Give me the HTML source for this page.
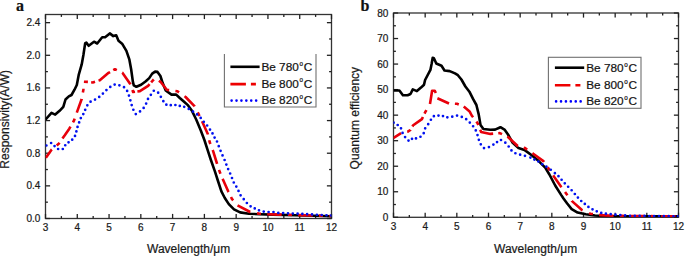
<!DOCTYPE html>
<html><head><meta charset="utf-8"><style>
html,body{margin:0;padding:0;background:#fff;width:685px;height:256px;overflow:hidden}
svg{display:block}
text{stroke:#1a1a1a;stroke-width:0.22px}

</style></head><body>
<svg width="685" height="256" viewBox="0 0 685 256" font-family="&quot;Liberation Sans&quot;, sans-serif" fill="#1a1a1a">
<text x="16" y="10.6" font-family="&quot;Liberation Serif&quot;, serif" font-weight="bold" font-size="16" fill="#111">a</text>
<text x="360.5" y="10.6" font-family="&quot;Liberation Serif&quot;, serif" font-weight="bold" font-size="16" fill="#111">b</text>
<rect x="45.5" y="14.5" width="286.00" height="204.00" fill="none" stroke="#333" stroke-width="1.3"/>
<line x1="45.50" y1="218.5" x2="45.50" y2="213.90" stroke="#222" stroke-width="1.3"/>
<line x1="45.50" y1="14.5" x2="45.50" y2="19.10" stroke="#222" stroke-width="1.3"/>
<text x="45.50" y="231.40" text-anchor="middle" font-size="10">3</text>
<line x1="61.39" y1="218.5" x2="61.39" y2="216.10" stroke="#222" stroke-width="1.3"/>
<line x1="61.39" y1="14.5" x2="61.39" y2="16.90" stroke="#222" stroke-width="1.3"/>
<line x1="77.28" y1="218.5" x2="77.28" y2="213.90" stroke="#222" stroke-width="1.3"/>
<line x1="77.28" y1="14.5" x2="77.28" y2="19.10" stroke="#222" stroke-width="1.3"/>
<text x="77.28" y="231.40" text-anchor="middle" font-size="10">4</text>
<line x1="93.17" y1="218.5" x2="93.17" y2="216.10" stroke="#222" stroke-width="1.3"/>
<line x1="93.17" y1="14.5" x2="93.17" y2="16.90" stroke="#222" stroke-width="1.3"/>
<line x1="109.06" y1="218.5" x2="109.06" y2="213.90" stroke="#222" stroke-width="1.3"/>
<line x1="109.06" y1="14.5" x2="109.06" y2="19.10" stroke="#222" stroke-width="1.3"/>
<text x="109.06" y="231.40" text-anchor="middle" font-size="10">5</text>
<line x1="124.94" y1="218.5" x2="124.94" y2="216.10" stroke="#222" stroke-width="1.3"/>
<line x1="124.94" y1="14.5" x2="124.94" y2="16.90" stroke="#222" stroke-width="1.3"/>
<line x1="140.83" y1="218.5" x2="140.83" y2="213.90" stroke="#222" stroke-width="1.3"/>
<line x1="140.83" y1="14.5" x2="140.83" y2="19.10" stroke="#222" stroke-width="1.3"/>
<text x="140.83" y="231.40" text-anchor="middle" font-size="10">6</text>
<line x1="156.72" y1="218.5" x2="156.72" y2="216.10" stroke="#222" stroke-width="1.3"/>
<line x1="156.72" y1="14.5" x2="156.72" y2="16.90" stroke="#222" stroke-width="1.3"/>
<line x1="172.61" y1="218.5" x2="172.61" y2="213.90" stroke="#222" stroke-width="1.3"/>
<line x1="172.61" y1="14.5" x2="172.61" y2="19.10" stroke="#222" stroke-width="1.3"/>
<text x="172.61" y="231.40" text-anchor="middle" font-size="10">7</text>
<line x1="188.50" y1="218.5" x2="188.50" y2="216.10" stroke="#222" stroke-width="1.3"/>
<line x1="188.50" y1="14.5" x2="188.50" y2="16.90" stroke="#222" stroke-width="1.3"/>
<line x1="204.39" y1="218.5" x2="204.39" y2="213.90" stroke="#222" stroke-width="1.3"/>
<line x1="204.39" y1="14.5" x2="204.39" y2="19.10" stroke="#222" stroke-width="1.3"/>
<text x="204.39" y="231.40" text-anchor="middle" font-size="10">8</text>
<line x1="220.28" y1="218.5" x2="220.28" y2="216.10" stroke="#222" stroke-width="1.3"/>
<line x1="220.28" y1="14.5" x2="220.28" y2="16.90" stroke="#222" stroke-width="1.3"/>
<line x1="236.17" y1="218.5" x2="236.17" y2="213.90" stroke="#222" stroke-width="1.3"/>
<line x1="236.17" y1="14.5" x2="236.17" y2="19.10" stroke="#222" stroke-width="1.3"/>
<text x="236.17" y="231.40" text-anchor="middle" font-size="10">9</text>
<line x1="252.06" y1="218.5" x2="252.06" y2="216.10" stroke="#222" stroke-width="1.3"/>
<line x1="252.06" y1="14.5" x2="252.06" y2="16.90" stroke="#222" stroke-width="1.3"/>
<line x1="267.94" y1="218.5" x2="267.94" y2="213.90" stroke="#222" stroke-width="1.3"/>
<line x1="267.94" y1="14.5" x2="267.94" y2="19.10" stroke="#222" stroke-width="1.3"/>
<text x="267.94" y="231.40" text-anchor="middle" font-size="10">10</text>
<line x1="283.83" y1="218.5" x2="283.83" y2="216.10" stroke="#222" stroke-width="1.3"/>
<line x1="283.83" y1="14.5" x2="283.83" y2="16.90" stroke="#222" stroke-width="1.3"/>
<line x1="299.72" y1="218.5" x2="299.72" y2="213.90" stroke="#222" stroke-width="1.3"/>
<line x1="299.72" y1="14.5" x2="299.72" y2="19.10" stroke="#222" stroke-width="1.3"/>
<text x="299.72" y="231.40" text-anchor="middle" font-size="10">11</text>
<line x1="315.61" y1="218.5" x2="315.61" y2="216.10" stroke="#222" stroke-width="1.3"/>
<line x1="315.61" y1="14.5" x2="315.61" y2="16.90" stroke="#222" stroke-width="1.3"/>
<line x1="331.50" y1="218.5" x2="331.50" y2="213.90" stroke="#222" stroke-width="1.3"/>
<line x1="331.50" y1="14.5" x2="331.50" y2="19.10" stroke="#222" stroke-width="1.3"/>
<text x="331.50" y="231.40" text-anchor="middle" font-size="10">12</text>
<line x1="45.5" y1="218.50" x2="50.10" y2="218.50" stroke="#222" stroke-width="1.3"/>
<line x1="331.5" y1="218.50" x2="326.90" y2="218.50" stroke="#222" stroke-width="1.3"/>
<text x="40.30" y="222.00" text-anchor="end" font-size="10">0.0</text>
<line x1="45.5" y1="202.18" x2="47.90" y2="202.18" stroke="#222" stroke-width="1.3"/>
<line x1="331.5" y1="202.18" x2="329.10" y2="202.18" stroke="#222" stroke-width="1.3"/>
<line x1="45.5" y1="185.86" x2="50.10" y2="185.86" stroke="#222" stroke-width="1.3"/>
<line x1="331.5" y1="185.86" x2="326.90" y2="185.86" stroke="#222" stroke-width="1.3"/>
<text x="40.30" y="189.36" text-anchor="end" font-size="10">0.4</text>
<line x1="45.5" y1="169.54" x2="47.90" y2="169.54" stroke="#222" stroke-width="1.3"/>
<line x1="331.5" y1="169.54" x2="329.10" y2="169.54" stroke="#222" stroke-width="1.3"/>
<line x1="45.5" y1="153.22" x2="50.10" y2="153.22" stroke="#222" stroke-width="1.3"/>
<line x1="331.5" y1="153.22" x2="326.90" y2="153.22" stroke="#222" stroke-width="1.3"/>
<text x="40.30" y="156.72" text-anchor="end" font-size="10">0.8</text>
<line x1="45.5" y1="136.90" x2="47.90" y2="136.90" stroke="#222" stroke-width="1.3"/>
<line x1="331.5" y1="136.90" x2="329.10" y2="136.90" stroke="#222" stroke-width="1.3"/>
<line x1="45.5" y1="120.58" x2="50.10" y2="120.58" stroke="#222" stroke-width="1.3"/>
<line x1="331.5" y1="120.58" x2="326.90" y2="120.58" stroke="#222" stroke-width="1.3"/>
<text x="40.30" y="124.08" text-anchor="end" font-size="10">1.2</text>
<line x1="45.5" y1="104.26" x2="47.90" y2="104.26" stroke="#222" stroke-width="1.3"/>
<line x1="331.5" y1="104.26" x2="329.10" y2="104.26" stroke="#222" stroke-width="1.3"/>
<line x1="45.5" y1="87.94" x2="50.10" y2="87.94" stroke="#222" stroke-width="1.3"/>
<line x1="331.5" y1="87.94" x2="326.90" y2="87.94" stroke="#222" stroke-width="1.3"/>
<text x="40.30" y="91.44" text-anchor="end" font-size="10">1.6</text>
<line x1="45.5" y1="71.62" x2="47.90" y2="71.62" stroke="#222" stroke-width="1.3"/>
<line x1="331.5" y1="71.62" x2="329.10" y2="71.62" stroke="#222" stroke-width="1.3"/>
<line x1="45.5" y1="55.30" x2="50.10" y2="55.30" stroke="#222" stroke-width="1.3"/>
<line x1="331.5" y1="55.30" x2="326.90" y2="55.30" stroke="#222" stroke-width="1.3"/>
<text x="40.30" y="58.80" text-anchor="end" font-size="10">2.0</text>
<line x1="45.5" y1="38.98" x2="47.90" y2="38.98" stroke="#222" stroke-width="1.3"/>
<line x1="331.5" y1="38.98" x2="329.10" y2="38.98" stroke="#222" stroke-width="1.3"/>
<line x1="45.5" y1="22.66" x2="50.10" y2="22.66" stroke="#222" stroke-width="1.3"/>
<line x1="331.5" y1="22.66" x2="326.90" y2="22.66" stroke="#222" stroke-width="1.3"/>
<text x="40.30" y="26.16" text-anchor="end" font-size="10">2.4</text>
<rect x="393.5" y="13.0" width="285.00" height="204.30" fill="none" stroke="#333" stroke-width="1.3"/>
<line x1="393.50" y1="217.3" x2="393.50" y2="212.70" stroke="#222" stroke-width="1.3"/>
<line x1="393.50" y1="13.0" x2="393.50" y2="17.60" stroke="#222" stroke-width="1.3"/>
<text x="393.50" y="230.20" text-anchor="middle" font-size="10">3</text>
<line x1="409.33" y1="217.3" x2="409.33" y2="214.90" stroke="#222" stroke-width="1.3"/>
<line x1="409.33" y1="13.0" x2="409.33" y2="15.40" stroke="#222" stroke-width="1.3"/>
<line x1="425.17" y1="217.3" x2="425.17" y2="212.70" stroke="#222" stroke-width="1.3"/>
<line x1="425.17" y1="13.0" x2="425.17" y2="17.60" stroke="#222" stroke-width="1.3"/>
<text x="425.17" y="230.20" text-anchor="middle" font-size="10">4</text>
<line x1="441.00" y1="217.3" x2="441.00" y2="214.90" stroke="#222" stroke-width="1.3"/>
<line x1="441.00" y1="13.0" x2="441.00" y2="15.40" stroke="#222" stroke-width="1.3"/>
<line x1="456.83" y1="217.3" x2="456.83" y2="212.70" stroke="#222" stroke-width="1.3"/>
<line x1="456.83" y1="13.0" x2="456.83" y2="17.60" stroke="#222" stroke-width="1.3"/>
<text x="456.83" y="230.20" text-anchor="middle" font-size="10">5</text>
<line x1="472.67" y1="217.3" x2="472.67" y2="214.90" stroke="#222" stroke-width="1.3"/>
<line x1="472.67" y1="13.0" x2="472.67" y2="15.40" stroke="#222" stroke-width="1.3"/>
<line x1="488.50" y1="217.3" x2="488.50" y2="212.70" stroke="#222" stroke-width="1.3"/>
<line x1="488.50" y1="13.0" x2="488.50" y2="17.60" stroke="#222" stroke-width="1.3"/>
<text x="488.50" y="230.20" text-anchor="middle" font-size="10">6</text>
<line x1="504.33" y1="217.3" x2="504.33" y2="214.90" stroke="#222" stroke-width="1.3"/>
<line x1="504.33" y1="13.0" x2="504.33" y2="15.40" stroke="#222" stroke-width="1.3"/>
<line x1="520.17" y1="217.3" x2="520.17" y2="212.70" stroke="#222" stroke-width="1.3"/>
<line x1="520.17" y1="13.0" x2="520.17" y2="17.60" stroke="#222" stroke-width="1.3"/>
<text x="520.17" y="230.20" text-anchor="middle" font-size="10">7</text>
<line x1="536.00" y1="217.3" x2="536.00" y2="214.90" stroke="#222" stroke-width="1.3"/>
<line x1="536.00" y1="13.0" x2="536.00" y2="15.40" stroke="#222" stroke-width="1.3"/>
<line x1="551.83" y1="217.3" x2="551.83" y2="212.70" stroke="#222" stroke-width="1.3"/>
<line x1="551.83" y1="13.0" x2="551.83" y2="17.60" stroke="#222" stroke-width="1.3"/>
<text x="551.83" y="230.20" text-anchor="middle" font-size="10">8</text>
<line x1="567.67" y1="217.3" x2="567.67" y2="214.90" stroke="#222" stroke-width="1.3"/>
<line x1="567.67" y1="13.0" x2="567.67" y2="15.40" stroke="#222" stroke-width="1.3"/>
<line x1="583.50" y1="217.3" x2="583.50" y2="212.70" stroke="#222" stroke-width="1.3"/>
<line x1="583.50" y1="13.0" x2="583.50" y2="17.60" stroke="#222" stroke-width="1.3"/>
<text x="583.50" y="230.20" text-anchor="middle" font-size="10">9</text>
<line x1="599.33" y1="217.3" x2="599.33" y2="214.90" stroke="#222" stroke-width="1.3"/>
<line x1="599.33" y1="13.0" x2="599.33" y2="15.40" stroke="#222" stroke-width="1.3"/>
<line x1="615.17" y1="217.3" x2="615.17" y2="212.70" stroke="#222" stroke-width="1.3"/>
<line x1="615.17" y1="13.0" x2="615.17" y2="17.60" stroke="#222" stroke-width="1.3"/>
<text x="615.17" y="230.20" text-anchor="middle" font-size="10">10</text>
<line x1="631.00" y1="217.3" x2="631.00" y2="214.90" stroke="#222" stroke-width="1.3"/>
<line x1="631.00" y1="13.0" x2="631.00" y2="15.40" stroke="#222" stroke-width="1.3"/>
<line x1="646.83" y1="217.3" x2="646.83" y2="212.70" stroke="#222" stroke-width="1.3"/>
<line x1="646.83" y1="13.0" x2="646.83" y2="17.60" stroke="#222" stroke-width="1.3"/>
<text x="646.83" y="230.20" text-anchor="middle" font-size="10">11</text>
<line x1="662.67" y1="217.3" x2="662.67" y2="214.90" stroke="#222" stroke-width="1.3"/>
<line x1="662.67" y1="13.0" x2="662.67" y2="15.40" stroke="#222" stroke-width="1.3"/>
<line x1="678.50" y1="217.3" x2="678.50" y2="212.70" stroke="#222" stroke-width="1.3"/>
<line x1="678.50" y1="13.0" x2="678.50" y2="17.60" stroke="#222" stroke-width="1.3"/>
<text x="678.50" y="230.20" text-anchor="middle" font-size="10">12</text>
<line x1="393.5" y1="217.30" x2="398.10" y2="217.30" stroke="#222" stroke-width="1.3"/>
<line x1="678.5" y1="217.30" x2="673.90" y2="217.30" stroke="#222" stroke-width="1.3"/>
<text x="388.30" y="220.80" text-anchor="end" font-size="10">0</text>
<line x1="393.5" y1="204.53" x2="395.90" y2="204.53" stroke="#222" stroke-width="1.3"/>
<line x1="678.5" y1="204.53" x2="676.10" y2="204.53" stroke="#222" stroke-width="1.3"/>
<line x1="393.5" y1="191.76" x2="398.10" y2="191.76" stroke="#222" stroke-width="1.3"/>
<line x1="678.5" y1="191.76" x2="673.90" y2="191.76" stroke="#222" stroke-width="1.3"/>
<text x="388.30" y="195.26" text-anchor="end" font-size="10">10</text>
<line x1="393.5" y1="178.99" x2="395.90" y2="178.99" stroke="#222" stroke-width="1.3"/>
<line x1="678.5" y1="178.99" x2="676.10" y2="178.99" stroke="#222" stroke-width="1.3"/>
<line x1="393.5" y1="166.23" x2="398.10" y2="166.23" stroke="#222" stroke-width="1.3"/>
<line x1="678.5" y1="166.23" x2="673.90" y2="166.23" stroke="#222" stroke-width="1.3"/>
<text x="388.30" y="169.73" text-anchor="end" font-size="10">20</text>
<line x1="393.5" y1="153.46" x2="395.90" y2="153.46" stroke="#222" stroke-width="1.3"/>
<line x1="678.5" y1="153.46" x2="676.10" y2="153.46" stroke="#222" stroke-width="1.3"/>
<line x1="393.5" y1="140.69" x2="398.10" y2="140.69" stroke="#222" stroke-width="1.3"/>
<line x1="678.5" y1="140.69" x2="673.90" y2="140.69" stroke="#222" stroke-width="1.3"/>
<text x="388.30" y="144.19" text-anchor="end" font-size="10">30</text>
<line x1="393.5" y1="127.92" x2="395.90" y2="127.92" stroke="#222" stroke-width="1.3"/>
<line x1="678.5" y1="127.92" x2="676.10" y2="127.92" stroke="#222" stroke-width="1.3"/>
<line x1="393.5" y1="115.15" x2="398.10" y2="115.15" stroke="#222" stroke-width="1.3"/>
<line x1="678.5" y1="115.15" x2="673.90" y2="115.15" stroke="#222" stroke-width="1.3"/>
<text x="388.30" y="118.65" text-anchor="end" font-size="10">40</text>
<line x1="393.5" y1="102.38" x2="395.90" y2="102.38" stroke="#222" stroke-width="1.3"/>
<line x1="678.5" y1="102.38" x2="676.10" y2="102.38" stroke="#222" stroke-width="1.3"/>
<line x1="393.5" y1="89.61" x2="398.10" y2="89.61" stroke="#222" stroke-width="1.3"/>
<line x1="678.5" y1="89.61" x2="673.90" y2="89.61" stroke="#222" stroke-width="1.3"/>
<text x="388.30" y="93.11" text-anchor="end" font-size="10">50</text>
<line x1="393.5" y1="76.84" x2="395.90" y2="76.84" stroke="#222" stroke-width="1.3"/>
<line x1="678.5" y1="76.84" x2="676.10" y2="76.84" stroke="#222" stroke-width="1.3"/>
<line x1="393.5" y1="64.07" x2="398.10" y2="64.07" stroke="#222" stroke-width="1.3"/>
<line x1="678.5" y1="64.07" x2="673.90" y2="64.07" stroke="#222" stroke-width="1.3"/>
<text x="388.30" y="67.57" text-anchor="end" font-size="10">60</text>
<line x1="393.5" y1="51.31" x2="395.90" y2="51.31" stroke="#222" stroke-width="1.3"/>
<line x1="678.5" y1="51.31" x2="676.10" y2="51.31" stroke="#222" stroke-width="1.3"/>
<line x1="393.5" y1="38.54" x2="398.10" y2="38.54" stroke="#222" stroke-width="1.3"/>
<line x1="678.5" y1="38.54" x2="673.90" y2="38.54" stroke="#222" stroke-width="1.3"/>
<text x="388.30" y="42.04" text-anchor="end" font-size="10">70</text>
<line x1="393.5" y1="25.77" x2="395.90" y2="25.77" stroke="#222" stroke-width="1.3"/>
<line x1="678.5" y1="25.77" x2="676.10" y2="25.77" stroke="#222" stroke-width="1.3"/>
<line x1="393.5" y1="13.00" x2="398.10" y2="13.00" stroke="#222" stroke-width="1.3"/>
<line x1="678.5" y1="13.00" x2="673.90" y2="13.00" stroke="#222" stroke-width="1.3"/>
<text x="388.30" y="16.50" text-anchor="end" font-size="10">80</text>
<clipPath id="ca"><rect x="45.5" y="14.5" width="286.0" height="204.0"/></clipPath>
<clipPath id="cb"><rect x="393.5" y="13.0" width="285.0" height="204.3"/></clipPath>
<g clip-path="url(#ca)"><path d="M45.6,119.5 L51.5,112.8 L55.2,114.6 L59.6,110.8 L63.3,106.9 L65.5,99.5 L68.8,96.4 L71.5,95.0 L74.5,89.7 L76.8,85.0 L78.7,74.9 L81.7,64.4 L83.4,55.0 L85.2,43.1 L86.3,42.6 L88.7,45.8 L94.0,41.7 L97.2,43.5 L102.2,37.3 L105.1,37.3 L109.8,33.4 L113.3,36.1 L116.2,35.3 L118.5,40.8 L122.1,43.7 L126.4,50.9 L129.4,59.7 L131.1,69.0 L132.9,81.9 L133.8,85.3 L136.4,86.8 L141.1,84.7 L145.8,81.2 L149.2,78.1 L152.2,73.6 L155.1,71.6 L157.5,71.9 L160.4,76.0 L162.7,83.1 L165.7,90.5 L171.5,94.6 L176.2,94.6 L179.8,98.0 L183.8,101.5 L188.1,105.4 L192.1,111.1 L196.2,119.5 L200.8,130.5 L204.4,140.0 L207.5,149.6 L210.9,160.0 L214.9,171.4 L218.0,181.0 L221.4,191.4 L224.8,198.0 L228.8,204.1 L234.0,209.4 L240.1,212.4 L248.9,213.8 L259.4,214.2 L272.5,214.6 L295.0,215.2 L331.0,216.2" fill="none" stroke="#000" stroke-width="2.6" stroke-linejoin="round"/>
<path d="M56.71,145.45 L58.70,143.80 L59.53,142.65 M72.99,122.27 L74.00,120.50 L74.65,118.65 M82.87,92.58 L83.40,89.70 L83.40,88.63 M83.91,81.72 L87.90,81.89 M91.16,82.29 L92.80,82.50 L95.03,81.77 M113.26,70.19 L115.00,69.20 L116.81,70.06 M132.42,90.05 L133.10,92.00 L135.02,91.75 M151.14,82.41 L152.80,80.50 L153.84,79.46 M175.41,91.02 L177.40,91.30 L179.03,92.43 M197.71,112.41 L198.60,114.20 L199.48,116.00 M209.25,140.25 L209.70,142.20 L210.41,144.07 M219.08,169.90 L219.70,171.80 L220.48,173.64 M231.01,197.01 L231.90,198.80 L233.19,200.33 M257.03,213.24 L259.00,213.60 L260.99,213.74 M45.90,157.80 L51.70,149.60 L51.89,149.44 M62.43,138.61 L64.60,135.60 L69.30,128.70 L70.51,126.58 M76.80,112.57 L77.50,110.60 L81.70,99.00 L81.71,98.93 M98.53,80.62 L99.80,80.20 L108.00,73.20 L110.07,72.02 M122.17,72.59 L122.40,72.70 L130.40,84.30 L130.45,84.45 M137.38,91.43 L139.90,91.10 L148.10,85.90 L149.58,84.20 M158.88,80.72 L160.50,81.80 L166.80,89.80 L169.15,90.13 M184.50,96.24 L185.60,97.00 L194.70,106.30 L194.77,106.43 M202.05,121.28 L202.50,122.20 L207.80,134.00 L207.92,134.53 M212.68,150.03 L213.20,151.40 L216.50,162.00 L217.10,163.84 M222.65,178.77 L223.60,181.00 L228.40,191.80 L228.52,192.03 M237.54,205.42 L250.20,212.00 L250.43,212.04 M267.23,214.19 L267.30,214.20 L280.00,214.60 L281.72,214.65 M287.97,214.82 L291.97,214.93 M298.22,215.10 L312.71,215.50 M318.96,215.67 L322.96,215.78 M329.20,215.95 L331.00,216.00" fill="none" stroke="#e8000b" stroke-width="2.6" stroke-linejoin="round"/>
<path d="M46.39,145.50h0.02M51.09,143.00h0.02M54.54,146.06h0.02M58.09,149.00h0.02M62.79,149.00h0.02M65.23,145.26h0.02M68.54,142.28h0.02M72.19,139.70h0.02M75.00,135.92h0.02M76.37,131.47h0.02M77.53,126.90h0.02M79.13,122.47h0.02M80.81,118.08h0.02M83.29,114.09h0.02M85.19,109.78h0.02M87.32,105.28h0.02M90.57,101.65h0.02M95.02,99.55h0.02M99.21,96.90h0.02M102.90,93.59h0.02M106.42,90.07h0.02M110.27,86.90h0.02M114.64,84.57h0.02M119.38,85.34h0.02M124.01,87.14h0.02M127.12,90.96h0.02M128.94,95.53h0.02M130.36,100.30h0.02M131.68,105.10h0.02M133.35,109.76h0.02M135.79,114.10h0.02M140.02,111.40h0.02M143.64,107.95h0.02M146.13,103.61h0.02M147.99,98.95h0.02M150.86,94.85h0.02M153.79,90.77h0.02M158.14,92.67h0.02M160.83,96.81h0.02M163.34,101.16h0.02M166.35,104.69h0.02M170.76,105.20h0.02M175.39,105.00h0.02M179.78,105.97h0.02M184.19,106.80h0.02M188.76,108.89h0.02M192.99,111.60h0.02M197.08,114.45h0.02M200.68,117.90h0.02M203.79,121.80h0.02M207.12,125.52h0.02M209.99,129.60h0.02M212.50,133.46h0.02M214.58,137.58h0.02M216.99,141.50h0.02M218.74,146.19h0.02M220.57,150.84h0.02M222.52,155.44h0.02M224.59,160.00h0.02M226.34,164.54h0.02M228.12,169.07h0.02M230.14,173.50h0.02M231.99,178.00h0.02M233.77,182.50h0.02M236.30,186.62h0.02M238.51,190.93h0.02M240.59,195.30h0.02M243.73,199.15h0.02M246.86,203.02h0.02M250.59,206.30h0.02M254.75,208.38h0.02M258.99,210.30h0.02M263.71,211.58h0.02M268.59,212.00h0.02M273.48,212.02h0.02M278.29,212.90h0.02M283.14,213.10h0.02M287.99,213.30h0.02M292.79,213.50h0.02M297.59,213.70h0.02M302.35,213.93h0.02M307.10,214.19h0.02M312.00,214.46h0.02M316.89,214.73h0.02M321.69,214.99h0.02M326.49,215.25h0.02M330.99,215.50h0.02" fill="none" stroke="#0010f0" stroke-width="2.7" stroke-linecap="round"/></g>
<g clip-path="url(#cb)"><path d="M393.5,90.5 L399.4,90.5 L402.9,95.2 L407.6,95.2 L410.5,94.0 L412.8,89.4 L416.9,91.1 L421.0,87.6 L424.0,84.7 L425.1,80.0 L430.4,69.9 L431.6,64.0 L432.7,57.8 L433.9,58.2 L436.3,63.5 L441.5,65.8 L444.5,70.5 L449.7,71.1 L455.0,73.4 L457.9,75.2 L461.4,79.5 L465.4,86.5 L469.4,91.7 L472.9,98.7 L476.4,105.0 L478.7,114.4 L480.5,124.9 L483.4,129.0 L490.4,129.8 L495.1,129.6 L500.4,127.2 L504.5,129.6 L508.0,134.5 L512.7,142.9 L518.5,148.1 L524.4,149.9 L531.7,155.3 L538.7,161.1 L545.2,167.6 L549.4,174.5 L555.2,185.5 L561.1,194.9 L563.5,198.5 L567.0,203.2 L571.7,209.1 L577.6,212.6 L585.8,214.3 L595.1,215.5 L606.8,216.1 L678.0,216.3" fill="none" stroke="#000" stroke-width="2.6" stroke-linejoin="round"/>
<path d="M407.20,131.81 L407.80,131.70 L410.40,130.00 L410.54,129.76 M424.54,113.60 L425.40,111.80 L426.49,110.12 M454.90,103.72 L456.90,103.80 L458.78,104.49 M476.38,121.61 L477.60,123.20 L478.35,125.06 M498.26,133.23 L499.80,133.10 L502.02,134.15 M523.67,147.70 L525.00,148.10 L527.16,149.57 M547.60,167.13 L548.70,168.70 L549.86,170.43 M565.05,192.02 L566.30,193.70 L567.44,195.22 M589.06,213.13 L590.40,213.70 L592.92,214.03 M393.20,138.10 L401.10,133.09 M412.43,126.52 L413.20,125.20 L421.90,119.10 L422.91,116.98 M429.97,103.99 L430.80,99.00 L432.10,90.80 L434.80,90.80 L435.80,93.00 M437.40,98.20 L449.00,103.50 M463.74,106.55 L469.60,111.40 L471.70,115.50 L473.09,117.32 M480.26,129.82 L481.10,131.90 L490.40,133.90 L493.14,133.67 M507.23,136.64 L508.00,137.00 L517.40,145.80 L518.14,146.02 M532.43,153.17 L533.20,153.70 L543.40,161.10 L543.95,161.89 M553.16,175.38 L554.10,176.80 L561.10,186.70 L561.50,187.24 M571.67,200.85 L571.70,200.90 L582.20,210.20 L582.58,210.36 M599.12,214.85 L601.00,215.10 L612.70,215.80 L613.58,215.81 M619.83,215.88 L623.83,215.92 M630.08,215.99 L640.00,216.10 L644.58,216.12 M650.83,216.16 L654.83,216.18 M661.08,216.21 L675.58,216.29" fill="none" stroke="#e8000b" stroke-width="2.6" stroke-linejoin="round"/>
<path d="M393.58,122.65h0.02M397.67,124.98h0.02M400.99,128.30h0.02M402.56,132.92h0.02M405.07,137.11h0.02M408.49,140.60h0.02M412.00,138.86h0.02M415.99,138.40h0.02M420.46,136.73h0.02M423.71,133.20h0.02M425.16,128.31h0.02M428.19,124.14h0.02M430.90,119.74h0.02M433.87,116.13h0.02M438.48,115.56h0.02M442.98,116.07h0.02M447.34,117.28h0.02M452.24,116.66h0.02M457.03,115.59h0.02M461.79,116.91h0.02M466.18,119.18h0.02M469.80,122.56h0.02M473.10,126.25h0.02M475.79,130.40h0.02M477.50,135.04h0.02M478.85,139.80h0.02M480.78,144.34h0.02M483.99,148.10h0.02M488.94,147.12h0.02M493.39,144.60h0.02M497.03,142.03h0.02M500.99,140.00h0.02M505.32,142.67h0.02M508.66,146.49h0.02M511.45,150.45h0.02M515.39,153.26h0.02M520.12,154.70h0.02M524.95,155.79h0.02M530.41,157.56h0.02M534.37,159.54h0.02M538.33,161.52h0.02M542.29,164.24h0.02M546.40,166.72h0.02M550.77,169.75h0.02M554.88,173.13h0.02M558.47,176.20h0.02M561.58,179.76h0.02M564.75,183.36h0.02M568.14,186.75h0.02M571.62,190.24h0.02M574.83,193.98h0.02M577.91,197.59h0.02M581.22,201.01h0.02M584.80,203.97h0.02M588.41,206.89h0.02M592.50,209.28h0.02M596.74,211.36h0.02M601.23,212.88h0.02M605.90,213.64h0.02M610.69,214.20h0.02M615.49,214.64h0.02M620.31,215.05h0.02M625.14,215.42h0.02M629.97,215.78h0.02M634.81,215.85h0.02M639.65,215.90h0.02M644.49,215.95h0.02M649.33,216.00h0.02M654.17,216.05h0.02M659.01,216.10h0.02M663.85,216.15h0.02M668.69,216.20h0.02M673.53,216.25h0.02M677.99,216.30h0.02" fill="none" stroke="#0010f0" stroke-width="2.7" stroke-linecap="round"/></g>
<rect x="224.4" y="54.0" width="91.6" height="53.0" fill="#fff" stroke="none"/>
<path d="M224.4,54.0 V107.0 H316.0 V54.0" fill="none" stroke="#707070" stroke-width="1.1"/>
<line x1="230.4" y1="66.8" x2="259.6" y2="66.8" stroke="#000" stroke-width="2.6"/>
<text x="261.4" y="70.9" font-size="11.8" fill="#111">Be 780<tspan font-size="6.3" dx="0.6" dy="-5.2">o</tspan><tspan dx="0.9" dy="5.2">C</tspan></text>
<line x1="230.4" y1="84.1" x2="259.6" y2="84.1" stroke="#e00" stroke-width="2.6" stroke-dasharray="15.5,5,5,20"/>
<text x="261.4" y="87.6" font-size="11.8" fill="#111">Be 800<tspan font-size="6.3" dx="0.6" dy="-5.2">o</tspan><tspan dx="0.9" dy="5.2">C</tspan></text>
<line x1="231.6" y1="100.6" x2="259.6" y2="100.6" stroke="#00f" stroke-width="2.6" stroke-dasharray="0.01,4.9" stroke-linecap="round"/>
<text x="261.4" y="104.2" font-size="11.8" fill="#111">Be 820<tspan font-size="6.3" dx="0.6" dy="-5.2">o</tspan><tspan dx="0.9" dy="5.2">C</tspan></text>
<rect x="548.4" y="57.3" width="92.6" height="51.0" fill="#fff" stroke="#707070" stroke-width="1.1"/>
<line x1="554.9" y1="67.7" x2="584.2" y2="67.7" stroke="#000" stroke-width="2.6"/>
<text x="586.2" y="72.2" font-size="11.8" fill="#111">Be 780<tspan font-size="6.3" dx="0.6" dy="-5.2">o</tspan><tspan dx="0.9" dy="5.2">C</tspan></text>
<line x1="554.9" y1="85.2" x2="584.2" y2="85.2" stroke="#e00" stroke-width="2.6" stroke-dasharray="15.5,5,5,20"/>
<text x="586.2" y="89.2" font-size="11.8" fill="#111">Be 800<tspan font-size="6.3" dx="0.6" dy="-5.2">o</tspan><tspan dx="0.9" dy="5.2">C</tspan></text>
<line x1="556.1" y1="101.4" x2="584.2" y2="101.4" stroke="#00f" stroke-width="2.6" stroke-dasharray="0.01,4.9" stroke-linecap="round"/>
<text x="586.2" y="105.2" font-size="11.8" fill="#111">Be 820<tspan font-size="6.3" dx="0.6" dy="-5.2">o</tspan><tspan dx="0.9" dy="5.2">C</tspan></text>
<text x="147" y="252.8" font-size="12">Wavelength/μm</text>
<text x="494" y="252.8" font-size="12">Wavelength/μm</text>
<text transform="translate(9.0,168.7) rotate(-90)" font-size="12">Responsivity(A/W)</text>
<text transform="translate(359.0,169.4) rotate(-90)" font-size="12">Quantum efficiency</text>
</svg>
</body></html>
